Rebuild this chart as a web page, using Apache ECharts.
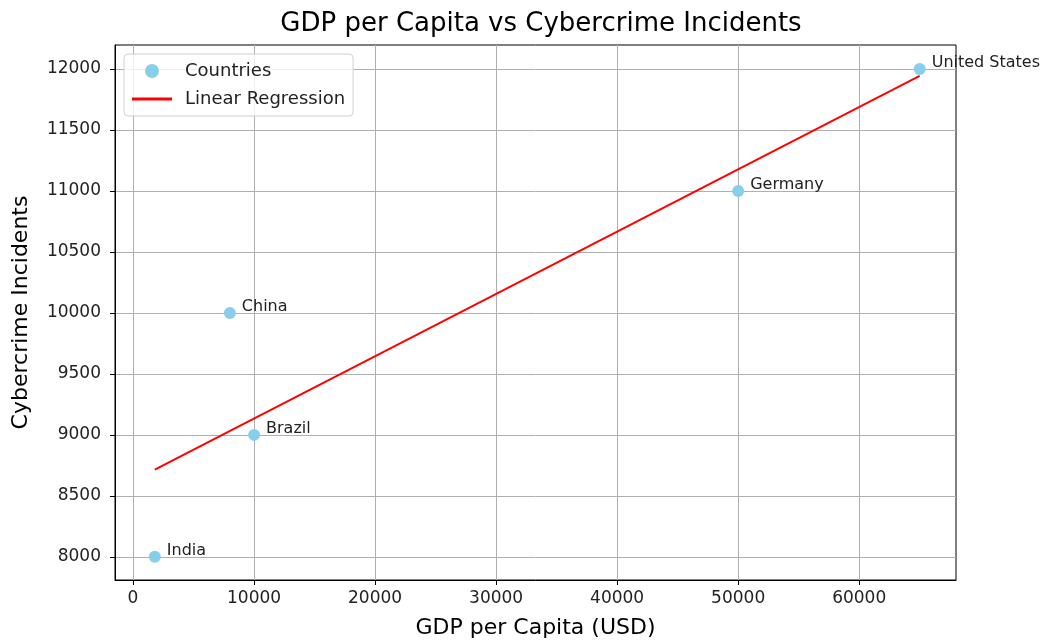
<!DOCTYPE html>
<html>
<head>
<meta charset="utf-8">
<script src="https://cdn.jsdelivr.net/npm/echarts@6/dist/echarts.min.js"></script>
<style>
html, body { margin: 0; padding: 0; background: #fff; }
#chart { width: 1044px; height: 644px; }
</style>
</head>
<body>
<div id="chart"></div>
<script>
// data
const countries = ['United States', 'Germany', 'China', 'Brazil', 'India'];
const gdpPerCapita = [65000, 50000, 8000, 10000, 1800];
const incidents = [12000, 11000, 10000, 9000, 8000];
// fitted line end points
const regX = [1800, 65000];
const regY = [8715, 11943];
const xTicks = [0, 10000, 20000, 30000, 40000, 50000, 60000];
const yTicks = [8000, 8500, 9000, 9500, 10000, 10500, 11000, 11500, 12000];

const font = 'DejaVu Sans';
const points = countries.map((c, i) => ({ name: c, value: [gdpPerCapita[i], incidents[i]] }));
const regLine = regX.map((x, i) => [x, regY[i]]);

const myChart = echarts.init(document.getElementById('chart'));
const option = {
    animation: false,
    textStyle: { fontFamily: font },
    title: {
        text: 'GDP per Capita vs Cybercrime Incidents',
        left: 536,
        textAlign: 'center',
        top: 6,
        textStyle: { fontFamily: font, fontSize: 26, fontWeight: 'normal', color: '#000' }
    },
    legend: {
        orient: 'vertical',
        left: 124,
        top: 54,
        padding: [8, 8, 8, 8],
        itemGap: 10,
        itemWidth: 40,
        itemHeight: 14,
        backgroundColor: 'rgba(255,255,255,0.8)',
        borderColor: '#d0d0d0',
        borderWidth: 1,
        borderRadius: 4,
        textStyle: { fontFamily: font, fontSize: 18, color: '#222', padding: [0, 0, 0, 8] },
        data: [
            { name: 'Countries', icon: 'circle' },
            { name: 'Linear Regression', icon: 'path://M0,0 L40,0 L40,3 L0,3 Z' }
        ]
    },
    grid: {
        left: 115,
        right: 88,
        top: 45,
        bottom: 64,
        show: true,
        borderColor: '#000',
        borderWidth: 1
    },
    xAxis: {
        type: 'value',
        min: -1490,
        max: 68000,
        name: 'GDP per Capita (USD)',
        nameLocation: 'middle',
        nameGap: 37,
        nameTextStyle: { fontFamily: font, fontSize: 22, color: '#000' },
        axisLine: { show: true, onZero: false, lineStyle: { color: '#000' } },
        axisTick: { show: true, customValues: xTicks, length: 5, lineStyle: { color: '#000' } },
        axisLabel: {
            customValues: xTicks, formatter: v => String(v),
            fontFamily: font, fontSize: 17, color: '#222', margin: 10
        },
        splitLine: { show: true, customValues: xTicks, lineStyle: { color: '#b0b0b0', width: 1 } }
    },
    yAxis: {
        type: 'value',
        min: 7810,
        max: 12197,
        name: 'Cybercrime Incidents',
        nameLocation: 'middle',
        nameGap: 83,
        nameTextStyle: { fontFamily: font, fontSize: 22, color: '#000' },
        axisLine: { show: true, onZero: false, lineStyle: { color: '#000' } },
        axisTick: { show: true, customValues: yTicks, length: 5, lineStyle: { color: '#000' } },
        axisLabel: {
            customValues: yTicks, formatter: v => String(v),
            fontFamily: font, fontSize: 17, color: '#222', margin: 14
        },
        splitLine: { show: true, customValues: yTicks, lineStyle: { color: '#b0b0b0', width: 1 } }
    },
    series: [
        {
            name: 'Countries',
            type: 'scatter',
            symbolSize: 12,
            itemStyle: { color: '#87CEEB', opacity: 1 },
            label: {
                show: true,
                position: 'right',
                distance: 6,
                offset: [0, -6],
                formatter: '{b}',
                fontFamily: font,
                fontSize: 16,
                color: '#222'
            },
            data: points,
            z: 3
        },
        {
            name: 'Linear Regression',
            type: 'line',
            symbol: 'none',
            lineStyle: { color: '#ff0000', width: 2 },
            itemStyle: { color: '#ff0000' },
            data: regLine,
            z: 2
        }
    ]
};
myChart.setOption(option);

window.addEventListener('resize', () => {
    myChart.resize();
});
</script>
</body>
</html>
